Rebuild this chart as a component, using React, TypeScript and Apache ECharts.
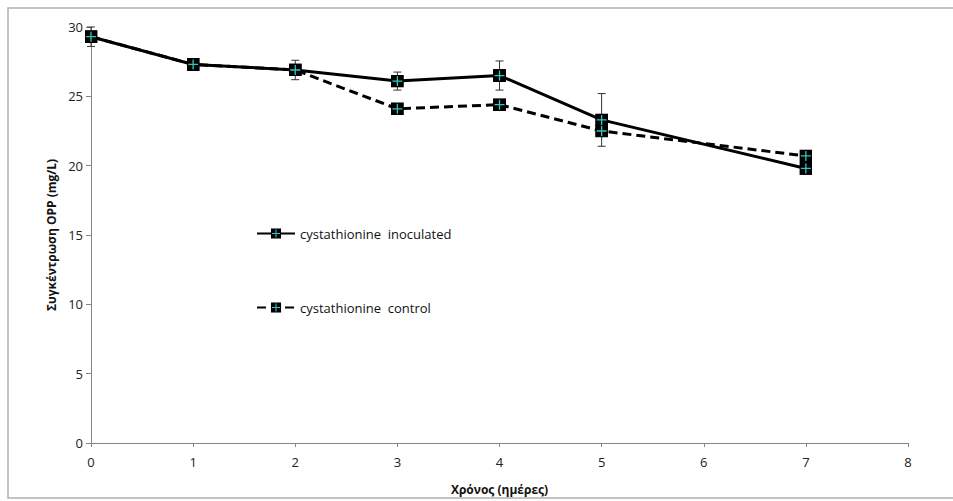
import React, { useEffect, useRef } from "react";
import * as echarts from "echarts";

const days = [0, 1, 2, 3, 4, 5, 7];
const inoculated = [29.3, 27.3, 26.9, 26.1, 26.5, 23.3, 19.8];
const control = [29.3, 27.3, 26.9, 24.1, 24.4, 22.5, 20.7];
const inoculatedErr = [0.7, 0, 0.7, 0.65, 1.05, 1.9, 0];
const seriesNames = ["cystathionine  inoculated", "cystathionine  control"];
const xTicks = [0, 1, 2, 3, 4, 5, 6, 7, 8];
const yTicks = [0, 5, 10, 15, 20, 25, 30];

const markerSvg =
  "<svg xmlns='http://www.w3.org/2000/svg' width='13' height='13' viewBox='0 0 13 13'>" +
  "<rect width='13' height='13' fill='#000'/>" +
  "<path d='M6.5 1.5V11.5M1.5 6.5H11.5' stroke='#2fc7c2' stroke-width='1.3'/></svg>";
const markerUri = "image://data:image/svg+xml;charset=utf-8," + encodeURIComponent(markerSvg);

const font = "'Open Sans', 'Liberation Sans', sans-serif";

export default function App() {
  const ref = useRef<HTMLDivElement>(null);
  useEffect(() => {
    if (!ref.current) return;
    const chart = echarts.init(ref.current, null, { renderer: "svg" });
    const errData = days
      .map((d, i) => [d, inoculated[i] - inoculatedErr[i], inoculated[i] + inoculatedErr[i]])
      .filter((_, i) => inoculatedErr[i] > 0);
    chart.setOption({
      animation: false,
      backgroundColor: "#fff",
      graphic: [
        {
          type: "rect",
          shape: { x: 8, y: 8, width: 960, height: 490 },
          style: { fill: "none", stroke: "#b0b0b0", lineWidth: 1.5 },
          silent: true,
          z: -1,
        },
      ],
      grid: { left: 91, right: 45, top: 27, bottom: 58 },
      legend: {
        orient: "vertical",
        left: 251,
        top: 222,
        itemGap: 61,
        itemWidth: 38,
        itemHeight: 13,
        data: seriesNames,
        textStyle: { fontFamily: font, fontSize: 13, color: "#111" },
      },
      xAxis: {
        type: "value",
        min: 0,
        max: 8,
        interval: 1,
        name: "Χρόνος (ημέρες)",
        nameLocation: "middle",
        nameGap: 40,
        nameTextStyle: { fontFamily: font, fontSize: 12, fontWeight: "bold", color: "#111" },
        axisLine: { show: true, lineStyle: { color: "#868686", width: 1 } },
        axisTick: { show: true, length: 4, lineStyle: { color: "#868686" } },
        axisLabel: {
          fontFamily: font,
          fontSize: 13,
          color: "#222",
          margin: 12,
          formatter: (v: number) => (xTicks.includes(v) ? String(v) : ""),
        },
        splitLine: { show: false },
      },
      yAxis: {
        type: "value",
        min: 0,
        max: 30,
        interval: 5,
        name: "Συγκέντρωση OPP (mg/L)",
        nameLocation: "middle",
        nameGap: 30,
        nameTextStyle: { fontFamily: font, fontSize: 12, fontWeight: "bold", color: "#111" },
        axisLine: { show: true, lineStyle: { color: "#868686", width: 1 } },
        axisTick: { show: true, length: 5, lineStyle: { color: "#868686" } },
        axisLabel: {
          fontFamily: font,
          fontSize: 13,
          color: "#222",
          margin: 8,
          formatter: (v: number) => (yTicks.includes(v) ? String(v) : ""),
        },
        splitLine: { show: false },
      },
      series: [
        {
          type: "custom",
          name: "err",
          z: 1,
          silent: true,
          data: errData,
          renderItem: (params: any, api: any) => {
            const x = api.value(0);
            const lo = api.coord([x, api.value(1)]);
            const hi = api.coord([x, api.value(2)]);
            const w = 4;
            const style = { stroke: "#333", lineWidth: 1 };
            return {
              type: "group",
              children: [
                { type: "line", shape: { x1: lo[0], y1: lo[1], x2: hi[0], y2: hi[1] }, style },
                { type: "line", shape: { x1: lo[0] - w, y1: lo[1], x2: lo[0] + w, y2: lo[1] }, style },
                { type: "line", shape: { x1: hi[0] - w, y1: hi[1], x2: hi[0] + w, y2: hi[1] }, style },
              ],
            };
          },
        },
        {
          type: "line",
          name: seriesNames[0],
          z: 3,
          data: days.map((d, i) => [d, inoculated[i]]),
          symbol: markerUri,
          symbolSize: 13,
          showAllSymbol: true,
          lineStyle: { color: "#000", width: 3 },
          itemStyle: { color: "#000" },
        },
        {
          type: "line",
          name: seriesNames[1],
          z: 2,
          data: days.map((d, i) => [d, control[i]]),
          symbol: markerUri,
          symbolSize: 13,
          showAllSymbol: true,
          lineStyle: { color: "#000", width: 3, type: [9, 5] },
          itemStyle: { color: "#000" },
        },
      ],
    });
    return () => chart.dispose();
  }, []);
  return <div ref={ref} style={{ width: 953, height: 501, position: "absolute", left: 0, top: 0 }} />;
}
